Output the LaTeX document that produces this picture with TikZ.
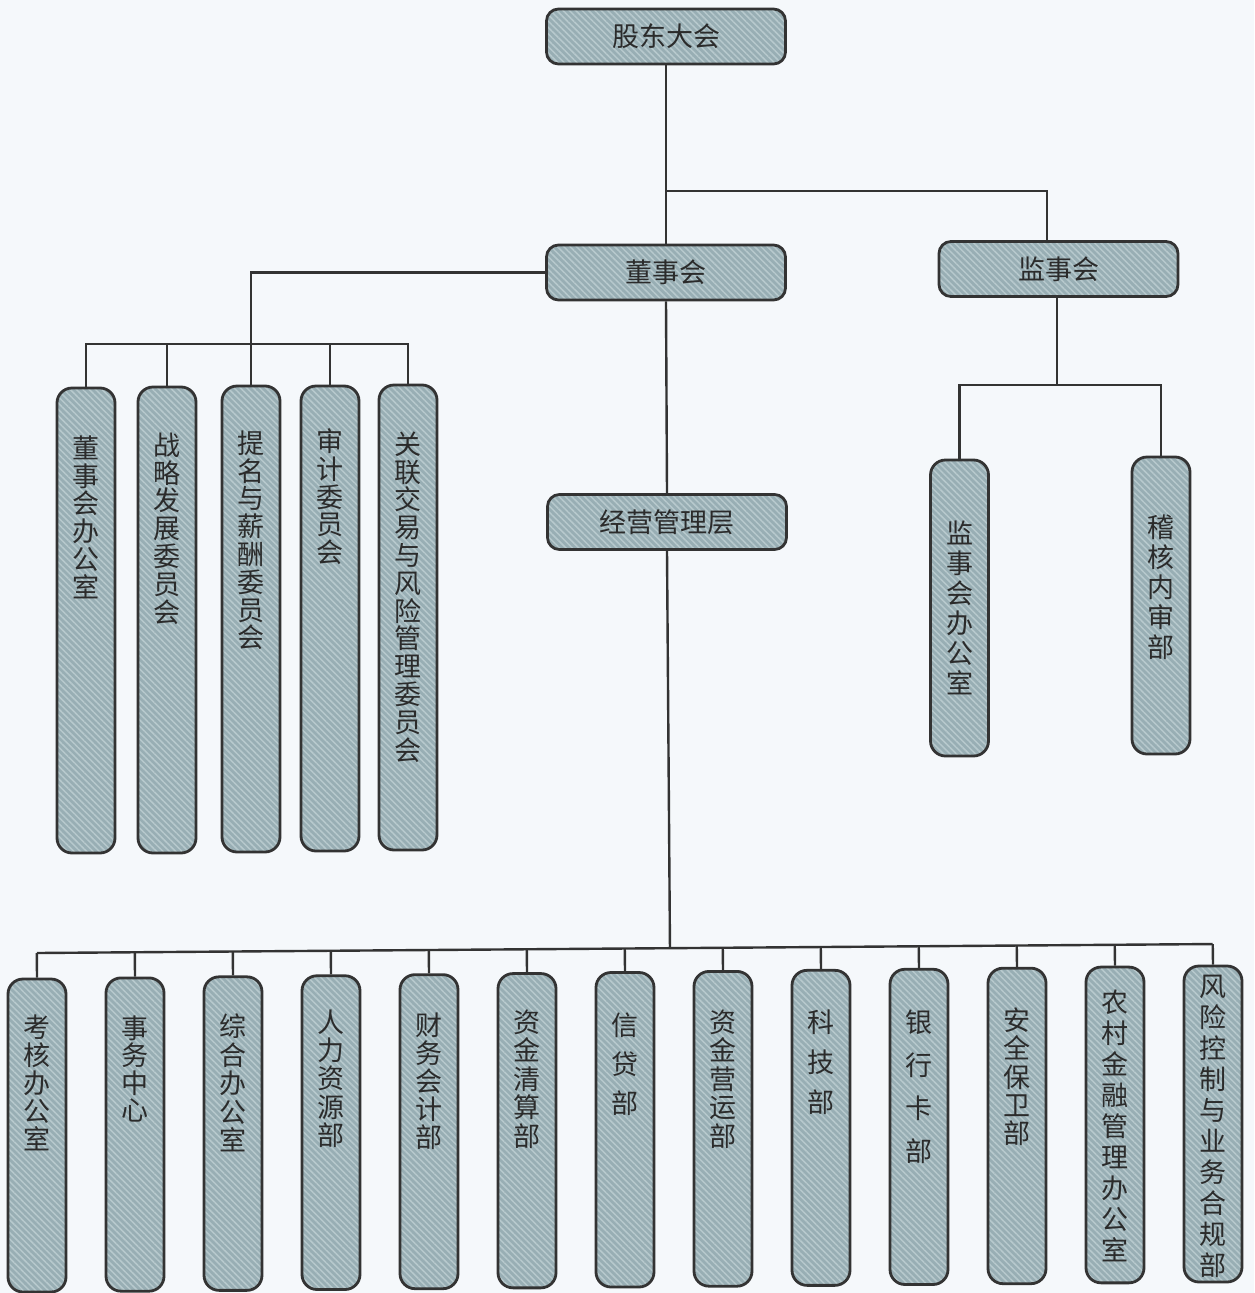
\documentclass[tikz,border=0pt]{standalone}
\usepackage{fontspec}
\newfontfamily\cjk{Noto Sans CJK SC}
\usetikzlibrary{calc,patterns.meta}
\definecolor{bg}{HTML}{F5F8FB}
\definecolor{boxfill}{HTML}{98AEB4}
\definecolor{stripe}{HTML}{B7C9CD}
\definecolor{linec}{HTML}{333333}
\definecolor{txt}{HTML}{2B2B2B}
\tikzset{
  box/.style={preaction={fill=boxfill},
    preaction={pattern={Lines[angle=-45,distance=4.5pt,line width=1.5pt]},pattern color=stripe},
    draw=linec, line width=2.8pt},
  hbox/.style={box, rounded corners=12pt, minimum width=239pt, minimum height=55pt,
    inner sep=0pt, font=\cjk\fontsize{27}{28}\selectfont, text=txt},
  vbox/.style={box, rounded corners=15pt, minimum width=58pt, inner sep=0pt},
  vtxt/.style={anchor=north, align=center, inner sep=0pt, text=txt},
  conn/.style={draw=linec, line width=2.4pt},
}
\begin{document}
\begin{tikzpicture}[x=1pt,y=-1pt]
\fill[bg] (0,0) rectangle (1254,1293);
\useasboundingbox (0,0) rectangle (1254,1293);

% top level boxes
\node[hbox] (gd)  at (666,36.5)  {股东大会};
\node[hbox] (dsh) at (666,272.5) {董事会};
\node[hbox] (jsh) at (1058.5,269) {监事会};
\node[hbox] (jy)  at (667,522)   {经营管理层};

% board committees
\foreach \n/\x/\t/\b/\y/\s in {
  L1/86/388/853/448/{董\\事\\会\\办\\公\\室},
  L2/167/387/853/445/{战\\略\\发\\展\\委\\员\\会},
  L3/251/386/852/443/{提\\名\\与\\薪\\酬\\委\\员\\会},
  L4/330/386/851/441/{审\\计\\委\\员\\会},
  L5/408/385/850/444/{关\\联\\交\\易\\与\\风\\险\\管\\理\\委\\员\\会}}{
  \pgfmathsetmacro{\h}{\b-\t}
  \pgfmathsetmacro{\c}{(\b+\t)/2}
  \node[vbox, minimum height=\h pt] (\n) at (\x,\c) {};
  \node[vtxt, font=\cjk\fontsize{27}{27.8}\selectfont] (\n t) at (\x,\y-12.5) {\s};
}

% supervisory offices
\foreach \n/\x/\t/\b/\y/\s in {
  R1/959.5/460/756/533/{监\\事\\会\\办\\公\\室},
  R2/1161/457/754/527/{稽\\核\\内\\审\\部}}{
  \pgfmathsetmacro{\h}{\b-\t}
  \pgfmathsetmacro{\c}{(\b+\t)/2}
  \node[vbox, minimum height=\h pt] (\n) at (\x,\c) {};
  \node[vtxt, font=\cjk\fontsize{27}{30}\selectfont] (\n t) at (\x,\y-12.5) {\s};
}

% departments
\foreach \i/\y/\p/\s in {
  1/1027/28/{考\\核\\办\\公\\室},
  2/1028/27.5/{事\\务\\中\\心},
  3/1026/28.5/{综\\合\\办\\公\\室},
  4/1022/28.3/{人\\力\\资\\源\\部},
  5/1025/28/{财\\务\\会\\计\\部},
  6/1022/28.5/{资\\金\\清\\算\\部},
  7/1025/39/{信\\贷\\部},
  8/1022/28.5/{资\\金\\营\\运\\部},
  9/1022/40/{科\\技\\部},
  10/1022/43/{银\\行\\卡\\部},
  11/1020/28.3/{安\\全\\保\\卫\\部},
  12/1002/31/{农\\村\\金\\融\\管\\理\\办\\公\\室},
  13/987/31/{风\\险\\控\\制\\与\\业\\务\\合\\规\\部}}{
  \pgfmathsetmacro{\x}{37+98*(\i-1)}
  \pgfmathsetmacro{\t}{979-13*(\i-1)/12}
  \pgfmathsetmacro{\b}{1292-10*(\i-1)/12}
  \pgfmathsetmacro{\h}{\b-\t}
  \pgfmathsetmacro{\c}{(\b+\t)/2}
  \node[vbox, minimum height=\h pt] (B\i) at (\x,\c) {};
  \node[vtxt, font=\cjk\fontsize{27}{\p}\selectfont] (B\i t) at (\x,\y-12.5) {\s};
}

% connectors: top
\coordinate (tb) at (0,191);
\draw[conn] (gd.south) -- (dsh.north);
\draw[conn] (gd.south |- tb) -| ([xshift=-11.5pt]jsh.north);

% board -> committees
\coordinate (lb) at (0,344);
\draw[conn] (dsh.west) -| (L3.north);
\draw[conn] (L1.north) |- (L5.north |- lb) -- (L5.north);
\foreach \n in {L2,L4} \draw[conn] (\n.north) -- (\n.north |- lb);

% board -> management
\draw[conn] (dsh.south) -- (jy.north);

% supervisory -> offices
\coordinate (rb) at (0,385);
\draw[conn] ([xshift=-1.5pt]jsh.south) -- ([xshift=-1.5pt]jsh.south |- rb);
\draw[conn] (R1.north) |- (R2.north |- rb) -- (R2.north);

% management -> departments
\coordinate (bl) at (37,953);
\coordinate (br) at (1213,944);
\draw[conn] ($(bl)!(B1.north)!(br)$) -- ($(bl)!(B13.north)!(br)$);
\draw[conn] (jy.south) -- ($(bl)!(jy.south)!(br)$);
\foreach \i in {1,...,13} \draw[conn] (B\i.north) -- ($(bl)!(B\i.north)!(br)$);
\end{tikzpicture}
\end{document}
